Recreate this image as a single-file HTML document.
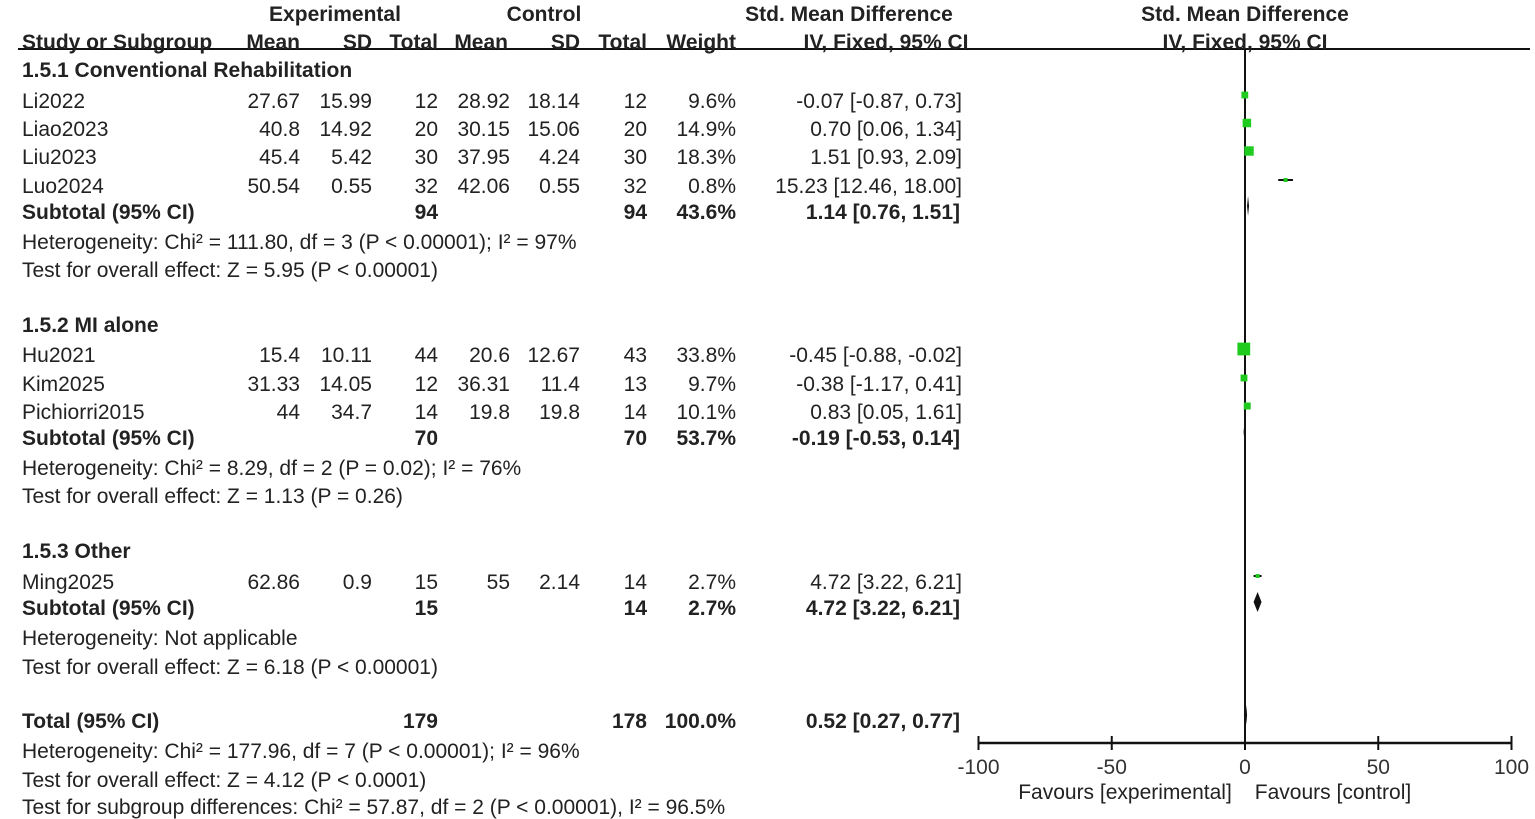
<!DOCTYPE html>
<html><head><meta charset="utf-8"><style>
body{margin:0;width:1535px;height:818px;background:#fff;overflow:hidden;font-family:"Liberation Sans",Arial,sans-serif;color:#222;position:relative}
.t{position:absolute;font-size:21px;white-space:nowrap;line-height:22px}
.b{font-weight:bold}
</style></head><body>
<svg id="plot" width="1535" height="818" style="position:absolute;left:0;top:0"></svg>
<div id="txt"></div>
<script>
// chart data
const studies=["Li2022","Liao2023","Liu2023","Luo2024","Hu2021","Kim2025","Pichiorri2015","Ming2025"];
const smd=[-0.07,0.70,1.51,15.23,-0.45,-0.38,0.83,4.72];
const lo=[-0.87,0.06,0.93,12.46,-0.88,-1.17,0.05,3.22];
const hi=[0.73,1.34,2.09,18.00,-0.02,0.41,1.61,6.21];
const weights=[9.6,14.9,18.3,0.8,33.8,9.7,10.1,2.7];
const studyRowY=[100,128,156,185,354,383,411,581];
const subEst=[1.14,-0.19,4.72,0.52];
const subLo=[0.76,-0.53,3.22,0.27];
const subHi=[1.51,0.14,6.21,0.77];
const subRowY=[211,437,607];
const ticks=[-100,-50,0,50,100];
const X0=1245,SC=(1511-978)/200;
function xs(v){return X0+v*SC;}
const svg=document.getElementById('plot');const NS="http://www.w3.org/2000/svg";
function mk(tag,attrs){const e=document.createElementNS(NS,tag);for(const k in attrs)e.setAttribute(k,attrs[k]);svg.appendChild(e);return e;}
let e;
e=mk('line',{x1:18,x2:1530,y1:49,y2:49,stroke:'#111','stroke-width':2});


e=mk('line',{x1:X0,x2:X0,y1:49,y2:743,stroke:'#111','stroke-width':2});


e=mk('line',{x1:xs(-100),x2:xs(100),y1:743,y2:743,stroke:'#111','stroke-width':2.5});


ticks.forEach(t=>{
 let l=mk('line',{x1:xs(t),x2:xs(t),y1:736,y2:750,stroke:'#111','stroke-width':2});
 
 
 let tx=mk('text',{x:xs(t),y:774,'text-anchor':'middle','font-size':21,fill:'#333','font-family':'Liberation Sans, sans-serif'});
 tx.textContent=t;
 
 
});
studies.forEach((s,i)=>{
 const y=studyRowY[i];
 let l=mk('line',{x1:xs(lo[i]),x2:xs(hi[i]),y1:y-5,y2:y-5,stroke:'#111','stroke-width':2});
 
 
 const sz=Math.max(4,Math.sqrt(weights[i])*2.2);
 let r=mk('rect',{x:xs(smd[i])-sz/2,y:y-5-sz/2,width:sz,height:sz,fill:'#1ecb1e'});
 
 
});
const diamY=[...subRowY,720];
subEst.forEach((v,i)=>{
 const y=diamY[i]-5,h=10;
 let p=mk('polygon',{points:`${xs(subLo[i])},${y} ${xs(v)},${y-h} ${xs(subHi[i])},${y} ${xs(v)},${y+h}`,fill:'#111'});
 
 
});
// table text
const T=document.getElementById('txt');
function tx(s,x,y,al,bold,name){const d=document.createElement('div');d.className='t'+(bold?' b':'');d.textContent=s;d.style.top=(y-9)+'px';
 if(al==='r'){d.style.right=(1535-x)+'px';}else if(al==='c'){d.style.left=x+'px';d.style.transform='translateX(-50%)';}else d.style.left=x+'px';
 
 
 T.appendChild(d);}
tx('Experimental',335,13,'c',1,'experimental-header');tx('Control',544,13,'c',1,'control-header');
tx('Std. Mean Difference',849,13,'c',1,'smd-header');tx('Std. Mean Difference',1245,13,'c',1,'plot-header');
tx('Study or Subgroup',22,41,'l',1,'col-study');tx('Mean',300,41,'r',1,'col-mean-exp');tx('SD',372,41,'r',1,'col-sd-exp');tx('Total',438,41,'r',1,'col-total-exp');
tx('Mean',508,41,'r',1,'col-mean-ctrl');tx('SD',580,41,'r',1,'col-sd-ctrl');tx('Total',647,41,'r',1,'col-total-ctrl');tx('Weight',736,41,'r',1,'col-weight');
tx('IV, Fixed, 95% CI',886,41,'c',1,'col-ci');tx('IV, Fixed, 95% CI',1245,41,'c',1,'plot-col-ci');
const rows=[
[100,'Li2022','27.67','15.99','12','28.92','18.14','12','9.6%','-0.07 [-0.87, 0.73]'],
[128,'Liao2023','40.8','14.92','20','30.15','15.06','20','14.9%','0.70 [0.06, 1.34]'],
[156,'Liu2023','45.4','5.42','30','37.95','4.24','30','18.3%','1.51 [0.93, 2.09]'],
[185,'Luo2024','50.54','0.55','32','42.06','0.55','32','0.8%','15.23 [12.46, 18.00]'],
[354,'Hu2021','15.4','10.11','44','20.6','12.67','43','33.8%','-0.45 [-0.88, -0.02]'],
[383,'Kim2025','31.33','14.05','12','36.31','11.4','13','9.7%','-0.38 [-1.17, 0.41]'],
[411,'Pichiorri2015','44','34.7','14','19.8','19.8','14','10.1%','0.83 [0.05, 1.61]'],
[581,'Ming2025','62.86','0.9','15','55','2.14','14','2.7%','4.72 [3.22, 6.21]']];
const cx=[300,372,438,510,580,647,736,962];
rows.forEach(r=>{tx(r[1],22,r[0],'l',0,'study-name');for(let k=0;k<8;k++)tx(r[k+2],cx[k],r[0],'r',0,'study-value');});
const subs=[[211,'Subtotal (95% CI)','94','94','43.6%','1.14 [0.76, 1.51]'],[437,'Subtotal (95% CI)','70','70','53.7%','-0.19 [-0.53, 0.14]'],
[607,'Subtotal (95% CI)','15','14','2.7%','4.72 [3.22, 6.21]'],[720,'Total (95% CI)','179','178','100.0%','0.52 [0.27, 0.77]']];
subs.forEach(r=>{tx(r[1],22,r[0],'l',1,'subtotal-label');tx(r[2],438,r[0],'r',1,'subtotal-n');tx(r[3],647,r[0],'r',1,'subtotal-n');tx(r[4],736,r[0],'r',1,'subtotal-weight');tx(r[5],960,r[0],'r',1,'subtotal-ci');});
[[69,'1.5.1 Conventional Rehabilitation'],[324,'1.5.2 MI alone'],[550,'1.5.3 Other']].forEach(r=>tx(r[1],22,r[0],'l',1,'subgroup-title'));
[[241,'Heterogeneity: Chi² = 111.80, df = 3 (P < 0.00001); I² = 97%'],[269,'Test for overall effect: Z = 5.95 (P < 0.00001)'],
[467,'Heterogeneity: Chi² = 8.29, df = 2 (P = 0.02); I² = 76%'],[495,'Test for overall effect: Z = 1.13 (P = 0.26)'],
[637,'Heterogeneity: Not applicable'],[666,'Test for overall effect: Z = 6.18 (P < 0.00001)'],
[750,'Heterogeneity: Chi² = 177.96, df = 7 (P < 0.00001); I² = 96%'],[779,'Test for overall effect: Z = 4.12 (P < 0.0001)'],
[806,'Test for subgroup differences: Chi² = 57.87, df = 2 (P < 0.00001), I² = 96.5%']].forEach(r=>tx(r[1],22,r[0],'l',0,'stat-note'));
tx('Favours [experimental]',1125,791,'c',0,'favours-experimental');tx('Favours [control]',1333,791,'c',0,'favours-control');
</script>
</body></html>
